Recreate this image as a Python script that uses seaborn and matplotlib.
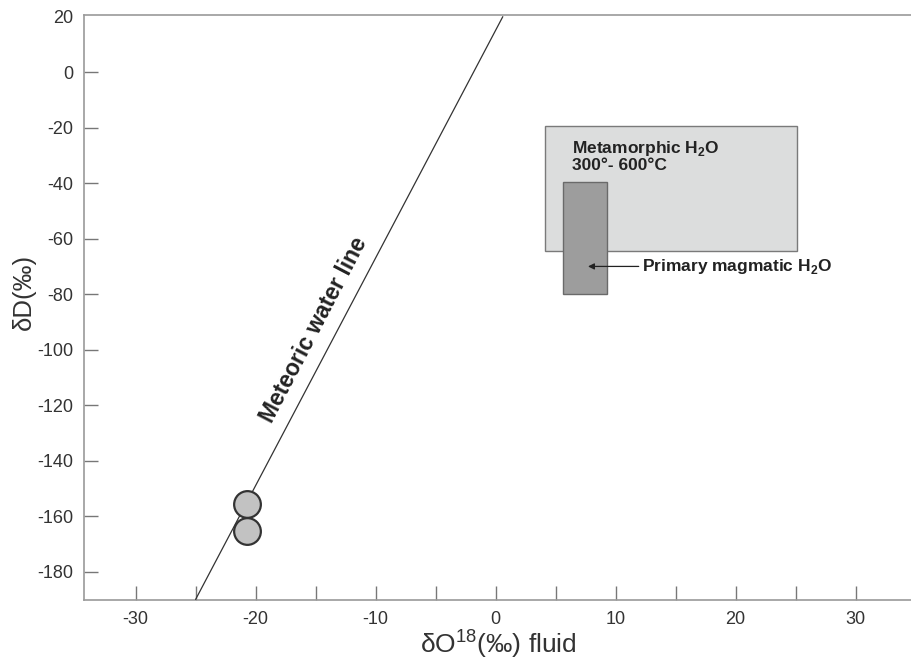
import numpy as np
import pandas as pd
import matplotlib
matplotlib.use('Agg')
import matplotlib.pyplot as plt
from matplotlib.patches import Rectangle
import seaborn as sns

# data
samples_d18o = [-20.7, -20.7]
samples_dd = [-155.5, -165.5]
mwl_d18o = [-25.0, 0.6]          # meteoric water line end points
mwl_dd = [-190.0, 20.0]
metamorphic_box = (4.1, -64.6, 25.1, -19.5)   # x0, y0, x1, y1
magmatic_box = (5.6, -80.0, 9.3, -39.6)
x_major = [-30, -20, -10, 0, 10, 20, 30]
x_minor = [-25, -15, -5, 5, 15, 25]
y_major = [20, 0, -20, -40, -60, -80, -100, -120, -140, -160, -180]

sns.set_style('ticks')
plt.rcParams['font.family'] = ['Liberation Sans', 'DejaVu Sans']
plt.rcParams['axes.unicode_minus'] = False
plt.rcParams['mathtext.fontset'] = 'custom'
plt.rcParams['mathtext.rm'] = 'Liberation Sans'
plt.rcParams['mathtext.bf'] = 'Liberation Sans:bold'

fig = plt.figure(figsize=(9.12, 6.63), dpi=100)
ax = fig.add_axes([84 / 912, 1 - 600 / 663, 1 - 84 / 912, (600 - 15) / 663])

# boxes
ax.add_patch(Rectangle((metamorphic_box[0], metamorphic_box[1]),
                       metamorphic_box[2] - metamorphic_box[0],
                       metamorphic_box[3] - metamorphic_box[1],
                       facecolor='#dcdddd', edgecolor='#7a7a7a', lw=1.0, zorder=1))
ax.add_patch(Rectangle((magmatic_box[0], magmatic_box[1]),
                       magmatic_box[2] - magmatic_box[0],
                       magmatic_box[3] - magmatic_box[1],
                       facecolor='#9d9d9d', edgecolor='#6a6a6a', lw=1.0, zorder=2))

# meteoric water line
sns.lineplot(x=mwl_d18o, y=mwl_dd, color='#333333', lw=0.9, ax=ax, zorder=3)

# samples
sns.scatterplot(x=samples_d18o, y=samples_dd, s=370, color='#c2c2c2',
                edgecolor='#333333', linewidth=1.6, ax=ax, zorder=4)

ax.text(-15.1, -92.9, 'Meteoric water line', rotation=62.4, rotation_mode='anchor',
        ha='center', va='center', fontsize=16.5, fontweight='bold', color='#222222')
ax.text(6.4, -24.0, 'Metamorphic H$_\\mathbf{2}$O\n300°- 600°C', ha='left', va='top',
        fontsize=12.5, fontweight='bold', color='#222222', linespacing=1.05)
ax.annotate('Primary magmatic H$_\\mathbf{2}$O', xy=(7.7, -70), xytext=(12.2, -70),
            ha='left', va='center', fontsize=12.5, fontweight='bold', color='#222222',
            arrowprops=dict(arrowstyle='-|>', color='#222222', lw=0.9,
                            mutation_scale=9, shrinkA=0, shrinkB=0))

ax.set_xlim(-34.3, 34.7)
ax.set_ylim(-190.2, 20.6)
ax.set_xticks(x_major)
ax.set_xticks(x_minor, minor=True)
ax.set_yticks(y_major)
ax.set_yticklabels([str(v) for v in y_major])
ax.tick_params(axis='both', which='both', direction='in', length=10, width=1.0,
               color='#777777', labelsize=13, labelcolor='#333333')
ax.tick_params(axis='x', pad=8)
ax.tick_params(axis='y', pad=8)
ax.yaxis.get_major_ticks()[0].tick1line.set_visible(False)

for side in ['left', 'bottom', 'top']:
    ax.spines[side].set_color('#9a9a9a')
    ax.spines[side].set_linewidth(1.2)
ax.spines['right'].set_visible(False)

ax.set_xlabel('δO$^{18}$(‰) fluid', fontsize=19, color='#333333')
ax.set_ylabel('δD(‰)', fontsize=18.5, color='#333333')
ax.xaxis.set_label_coords(0.5, -0.047)
ax.yaxis.set_label_coords(-0.058, 0.527)

plt.savefig('out.png', dpi=100)
plt.close()
